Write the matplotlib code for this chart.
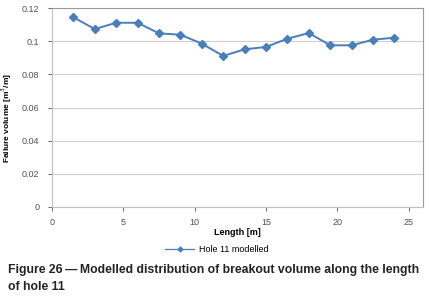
import matplotlib.pyplot as plt
from matplotlib.lines import Line2D

# data
length = [1.5, 3, 4.5, 6, 7.5, 9, 10.5, 12, 13.5, 15, 16.5, 18, 19.5, 21, 22.5, 24]
volume = [0.1144, 0.1073, 0.1111, 0.1111, 0.1047, 0.1039, 0.0985, 0.0911,
          0.0951, 0.0965, 0.1015, 0.1049, 0.0975, 0.0975, 0.1009, 0.1021]
yticks = [0, 0.02, 0.04, 0.06, 0.08, 0.1, 0.12]
ytick_labels = ['0', '0.02', '0.04', '0.06', '0.08', '0.1', '0.12']
xticks = [0, 5, 10, 15, 20, 25]

plt.rcParams['font.family'] = ['Liberation Sans', 'DejaVu Sans']

fig = plt.figure(figsize=(4.29, 3.05), dpi=100)
ax = fig.add_axes([52 / 429, 1 - 207 / 305, 371 / 429, 199 / 305])

ax.plot(length, volume, color='#4a7ebb', marker='D', markersize=4.5,
        linewidth=1.4)

ax.set_xlim(0, 26)
ax.set_ylim(0, 0.12)
ax.set_xticks(xticks)
ax.set_yticks(yticks)
ax.set_yticklabels(ytick_labels)
ax.tick_params(labelsize=6.5, colors='#505050', length=3, width=0.6)
ax.tick_params(axis='y', pad=6)
ax.tick_params(axis='x', pad=5)
ax.grid(axis='y', color='#cfcfcf', linewidth=0.8)
ax.set_axisbelow(True)
for side in ['top', 'right']:
    ax.spines[side].set_color('#9a9a9a')
for side in ['left', 'bottom']:
    ax.spines[side].set_color('#c0c0c0')
for s in ax.spines.values():
    s.set_linewidth(0.8)

ax.set_xlabel('Length [m]', fontsize=6.5, fontweight='bold')
ax.xaxis.set_label_coords((237 - 52) / 371, -21 / 199)
ax.set_ylabel('Failure volume [m$^3$/m]', fontsize=6, fontweight='bold')
ax.yaxis.set_label_coords(-38 / 371, (207 - 118) / 199)

handle = Line2D([], [], color='#4a7ebb', marker='D', markersize=2.5, linewidth=0.9)
fig.legend([handle], ['Hole 11 modelled'], loc='center',
           bbox_to_anchor=(217 / 429, 1 - 250 / 305), frameon=False,
           fontsize=6.5, handlelength=3.2, handletextpad=0.5)

caption = ['Figure 26\u2009\u2014\u2009Modelled distribution of breakout volume along the length',
           'of hole 11']
fig.text(8 / 429, 1 - 270 / 305, caption[0], fontsize=8.8, fontweight='bold',
         va='center', color='#222222')
fig.text(8 / 429, 1 - 287 / 305, caption[1], fontsize=8.8, fontweight='bold',
         va='center', color='#222222')

fig.savefig('out.png', dpi=100)
